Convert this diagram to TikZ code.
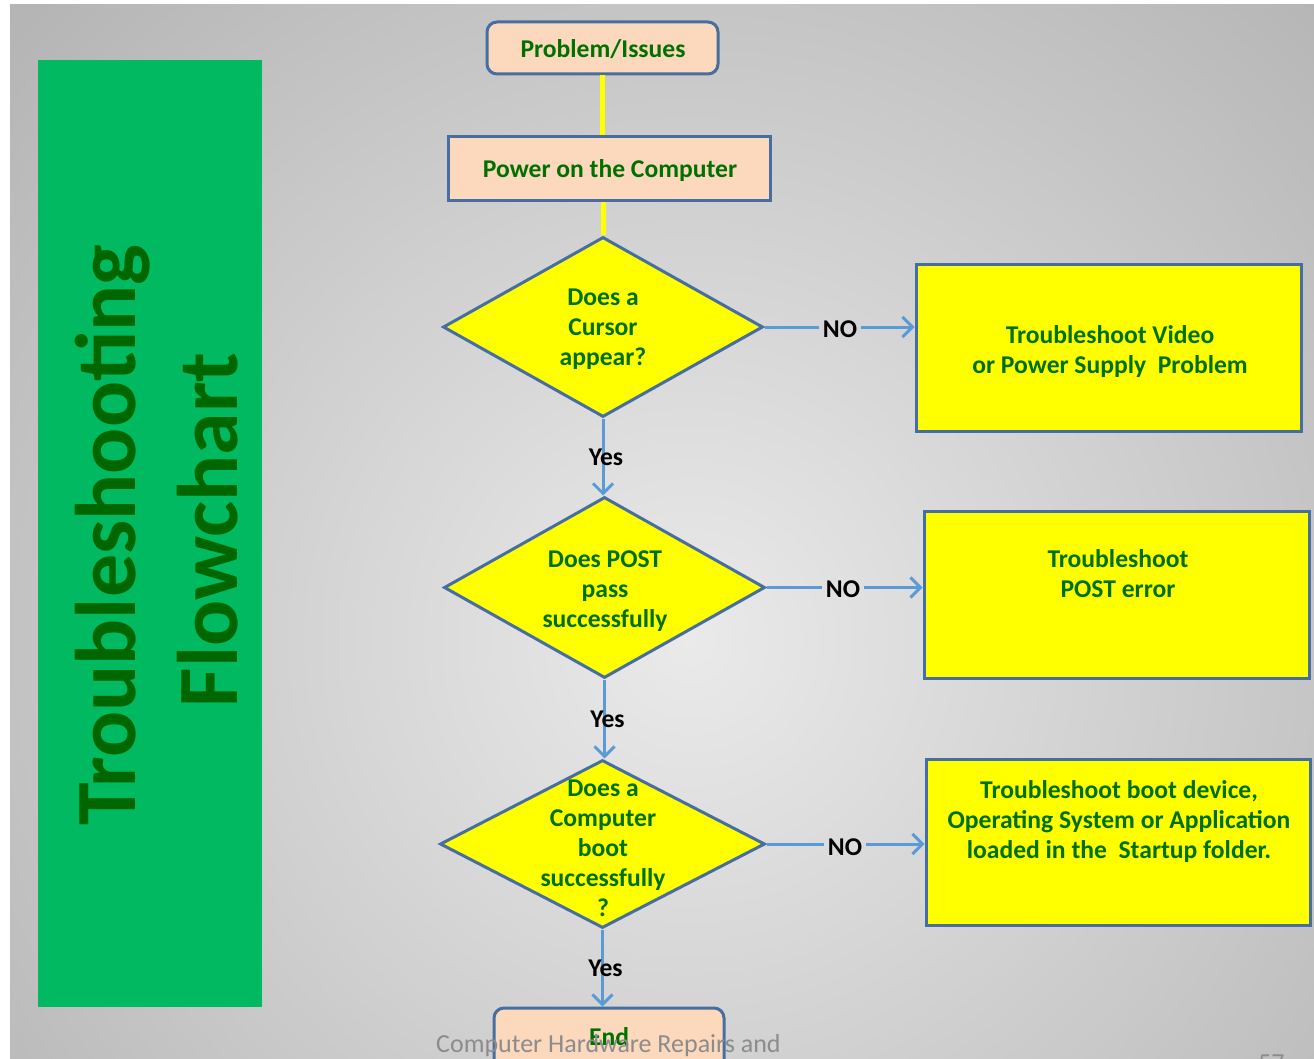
\documentclass[tikz,border=0pt]{standalone}
\usepackage{fontspec}
\setmainfont{Carlito}
\usetikzlibrary{arrows.meta,shapes.geometric}
\definecolor{txtgreen}{RGB}{0,112,0}
\definecolor{titletxt}{RGB}{0,102,0}
\definecolor{titlegreen}{RGB}{0,185,96}
\definecolor{bordblue}{RGB}{70,110,160}
\definecolor{connblue}{RGB}{91,155,213}
\definecolor{peach}{RGB}{252,216,188}
\definecolor{boxyellow}{RGB}{255,255,0}
\definecolor{bgin}{RGB}{234,234,234}
\definecolor{bgout}{RGB}{178,178,178}
\definecolor{footgray}{RGB}{140,140,140}
\begin{document}
\begin{tikzpicture}[x=1pt,y=-1pt,
  shapebox/.style={draw=bordblue, line width=3pt, inner sep=0pt},
  termbox/.style={shapebox, fill=peach, rounded corners=10pt},
  procbox/.style={shapebox, fill=peach},
  decision/.style={shapebox, diamond, fill=boxyellow},
  actbox/.style={shapebox, fill=boxyellow},
  txt/.style={text=txtgreen, font=\bfseries\fontsize{25.6}{30}\selectfont, align=center, inner sep=0pt},
  lbl/.style={text=black, font=\bfseries\fontsize{25.6}{30}\selectfont, inner sep=4pt},
  conn/.style={draw=connblue, line width=3pt},
  connarrow/.style={conn, -{Straight Barb[length=10pt,width=20pt]}},
  yline/.style={draw=boxyellow, line width=5pt},
  title/.style={text=titletxt, font=\bfseries\fontsize{86}{90}\selectfont, rotate=90, inner sep=0pt}
]
\useasboundingbox (0,0) rectangle (1314,1059);
\clip (0,0) rectangle (1314,1059);
\fill[white] (0,0) rectangle (1314,1059);
\begin{scope}
  \clip (10,5) rectangle (1314,1059);
  \fill[bgout] (10,5) rectangle (1314,1059);
  \shade[inner color=bgin, outer color=bgout] (690,640) circle (960pt);
\end{scope}

% title panel
\node[fill=titlegreen, minimum width=224pt, minimum height=947pt, inner sep=0pt] (panel) at (150,533.5) {};
\node[title] (t1) at (113,535) {Troubleshooting};
\node[title] (t2) at (208,530) {Flowchart};

% main flow
\node[termbox, minimum width=231pt, minimum height=52pt] (prob) at (602.5,48) {};
\node[txt] (probt) at (603,49) {Problem/Issues};
\node[procbox, minimum width=322pt, minimum height=64pt] (power) at (609,169) {};
\node[txt] (powert) at (610,171) {Power on the Computer};

\node[decision, minimum width=320pt, minimum height=180pt] (d1) at (603,327) {};
\node[txt] (d1t) at (603,329) {Does a\\Cursor\\appear?};
\node[decision, minimum width=321pt, minimum height=181pt] (d2) at (604.5,587.5) {};
\node[txt] (d2t) at (605,591) {Does POST\\pass\\successfully};
\node[decision, minimum width=325pt, minimum height=168pt] (d3) at (602.5,844) {};
\node[txt] (d3t) at (603,848) {Does a\\Computer\\boot\\successfully\\?};

\node[termbox, minimum width=230pt, minimum height=62pt] (endn) at (609,1039) {};
\node[txt] (endt) at (609,1037) {End};

% action boxes
\node[actbox, minimum width=385pt, minimum height=166pt] (b1) at (1108.5,348) {};
\node[txt] (b1t) at (1110,352) {Troubleshoot Video\\or Power Supply\ \ Problem};
\node[actbox, minimum width=385pt, minimum height=167pt] (b2) at (1116.5,594.5) {};
\node[txt] (b2t) at (1118,574) {Troubleshoot\\POST error};
\node[actbox, minimum width=384pt, minimum height=166pt] (b3) at (1118,842) {};
\node[txt] (b3t) at (1119,822) {Troubleshoot boot device,\\Operating System or Application\\loaded in the\ \ Startup folder.};

% yellow links
\draw[yline] (prob.south) -- (prob.south |- power.north);
\draw[yline] (d1.north |- power.south) -- (d1.north);

% yes arrows
\draw[connarrow] (d1.south) -- node[lbl, inner sep=0pt, xshift=3pt] (y1) {Yes} (d1.south |- d2.north);
\draw[connarrow] (d2.south) -- node[lbl, inner sep=0pt, xshift=3pt] (y2) {Yes} (d2.south |- d3.north);
\draw[connarrow] (d3.south) -- node[lbl, inner sep=0pt, xshift=3pt] (y3) {Yes} (d3.south |- endn.north);

% no arrows
\node[lbl] (no1) at (840,329) {NO};
\draw[conn] (d1.east) -- (d1.east -| no1.west);
\draw[connarrow] (d1.east -| no1.east) -- (d1.east -| b1.west);
\node[lbl] (no2) at (843,589) {NO};
\draw[conn] (d2.east) -- (d2.east -| no2.west);
\draw[connarrow] (d2.east -| no2.east) -- (d2.east -| b2.west);
\node[lbl] (no3) at (845,847) {NO};
\draw[conn] (d3.east) -- (d3.east -| no3.west);
\draw[connarrow] (d3.east -| no3.east) -- (d3.east -| b3.west);

% footer
\node[anchor=base west, text=footgray, font=\fontsize{26}{30}\selectfont, inner sep=0pt] (foot) at (436,1052) {Computer Hardware Repairs and};
\node[anchor=base west, text=footgray, font=\fontsize{26}{30}\selectfont, inner sep=0pt] (pg) at (1258,1071) {57};
\end{tikzpicture}
\end{document}
